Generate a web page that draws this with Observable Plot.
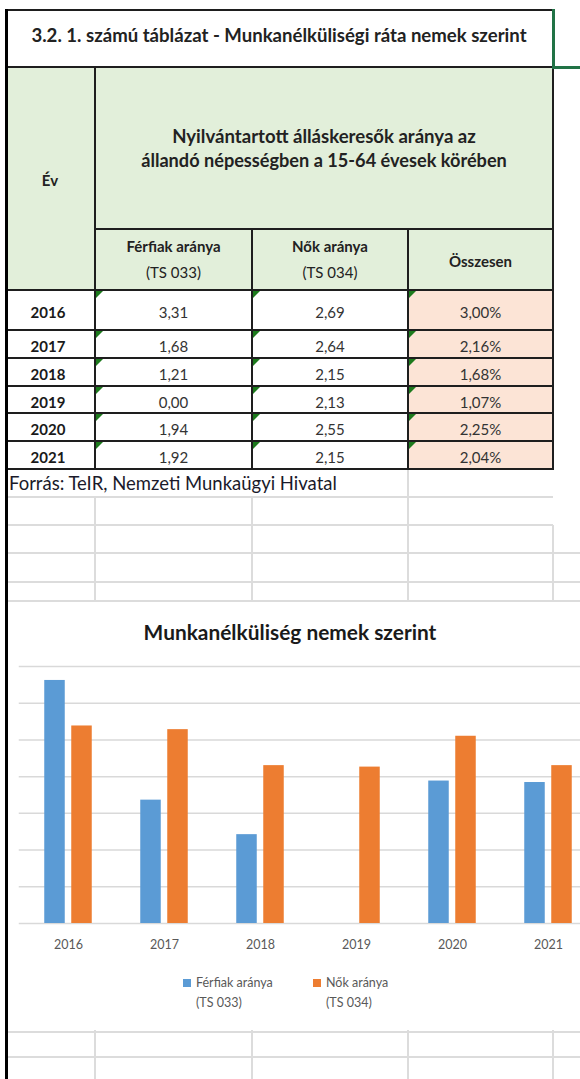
<!DOCTYPE html>
<html><head><meta charset="utf-8">
<script src="https://cdn.jsdelivr.net/npm/d3@7"></script>
<script src="https://cdn.jsdelivr.net/npm/@observablehq/plot@0.6"></script>
<style>
html,body{margin:0;padding:0;}
body{width:580px;height:1079px;overflow:hidden;background:#fff;position:relative;font-family:Lato,"Open Sans",sans-serif;}
.ln{position:absolute;}
.t{position:absolute;white-space:nowrap;line-height:1;}
.c{transform:translate(-50%,-50%);}
.l{transform:translate(0,-50%);}
.tri{position:absolute;width:0;height:0;border-top:7px solid #1d7a1d;border-right:7px solid transparent;}
#chart{position:absolute;left:0;top:602px;width:580px;height:428px;background:#fff;overflow:hidden;}
#chart svg{position:absolute;left:0;top:49px;overflow:visible;max-width:none !important;}
</style></head><body>
<div id="sheet"></div>
<div id="chart"></div>
<div id="front"></div>
<script>
// ---- data ----
const years = ["2016", "2017", "2018", "2019", "2020", "2021"];
const men = [3.31, 1.68, 1.21, 0.00, 1.94, 1.92];
const women = [2.69, 2.64, 2.15, 2.13, 2.55, 2.15];
const total = [3.00, 2.16, 1.68, 1.07, 2.25, 2.04];
const seriesNames = ["Férfiak aránya (TS 033)", "Nők aránya (TS 034)"];
const seriesColors = ["#5b9bd5", "#ed7d31"];
const yTicks = [0, 0.5, 1, 1.5, 2, 2.5, 3, 3.5];
const tableTitle = "3.2. 1. számú táblázat - Munkanélküliségi ráta nemek szerint";
const headerLines = ["Nyilvántartott álláskeresők aránya az", "állandó népességben a 15-64 évesek körében"];
const colHeads = [["Férfiak aránya", "(TS 033)"], ["Nők aránya", "(TS 034)"], ["Összesen"]];
const sourceText = "Forrás: TeIR, Nemzeti Munkaügyi Hivatal";
const chartTitle = "Munkanélküliség nemek szerint";

const fmt = v => v.toFixed(2).replace(".", ",");

// ---- sheet helpers ----
const sheet = document.getElementById("sheet");
const front = document.getElementById("front");
function box(parent, x, y, w, h, color) {
  const d = document.createElement("div");
  d.className = "ln";
  Object.assign(d.style, {left: x + "px", top: y + "px", width: w + "px", height: h + "px", background: color});
  parent.appendChild(d);
  return d;
}
function hline(p, x1, x2, y, c, w) { return box(p, x1, y - w / 2, x2 - x1, w, c); }
function vline(p, x, y1, y2, c, w) { return box(p, x - w / 2, y1, w, y2 - y1, c); }
function text(p, str, x, y, opts = {}) {
  const s = document.createElement("span");
  s.className = "t " + (opts.align === "left" ? "l" : "c");
  s.textContent = str;
  Object.assign(s.style, {left: x + "px", top: y + "px", fontSize: (opts.size || 16) + "px",
    fontWeight: opts.bold ? "700" : "400", color: opts.color || "#222"});
  p.appendChild(s);
  if (opts.width) {
    const w = s.getBoundingClientRect().width;
    s.style.fontSize = ((opts.size || 16) * opts.width / w) + "px";
  }
  return s;
}

const X = [7, 95, 252, 408, 553];
const RY = [290, 330, 358, 386, 413, 441, 469];
const GRID = "#dcdcdc", BLK = "#1e1e1e";

// fills
box(sheet, 7, 67, 546, 223, "#e2efda");
box(sheet, 408, 290, 145, 179, "#fce4d6");

// excel grid lines under/around table
hline(sheet, 7, 553, 497, GRID, 2);
hline(sheet, 7, 553, 525, GRID, 2);
[553, 582, 601, 1032, 1057].forEach(y => hline(sheet, 7, 580, y, GRID, 2));
vline(sheet, 408, 469, 497, GRID, 2);
[95, 252, 408].forEach(x => vline(sheet, x, 497, 602, GRID, 2));
vline(sheet, 553, 525, 602, GRID, 2);
[95, 252, 408, 553].forEach(x => vline(sheet, x, 1030, 1079, GRID, 2));

// table borders
hline(sheet, 7, 553, 10, BLK, 2);
hline(sheet, 7, 553, 67, BLK, 2);
vline(sheet, 95, 67, 469, BLK, 2);
vline(sheet, 553, 67, 469, BLK, 2);
hline(sheet, 95, 553, 229, BLK, 2);
vline(sheet, 252, 229, 469, BLK, 2);
vline(sheet, 408, 229, 469, BLK, 2);
RY.forEach(y => hline(sheet, 7, 554, y, BLK, 2));
// selected cell (green)
vline(sheet, 553, 9, 68, "#217346", 3);
hline(sheet, 552, 580, 67.5, "#217346", 3);

// green error triangles
for (let r = 0; r < years.length; r++) {
  for (let c = 1; c <= 3; c++) {
    const d = document.createElement("div");
    d.className = "tri";
    d.style.left = (X[c] + 1) + "px";
    d.style.top = (RY[r] + 1) + "px";
    sheet.appendChild(d);
  }
}

// table texts
const h1 = text(sheet, headerLines[0], 324, 136, {bold: true, size: 15, width: 304});
text(sheet, headerLines[1], 324, 160, {bold: true, size: 15, width: 366});
const headSize = parseFloat(h1.style.fontSize);
text(sheet, tableTitle, 279, 35, {bold: true, size: headSize});
text(sheet, "Év", 50, 180, {bold: true, size: 15});
const colCx = [173.5, 330, 480.5];
colHeads.forEach((lines, i) => {
  if (lines.length === 2) {
    text(sheet, lines[0], colCx[i], 246, {bold: true, size: 15});
    text(sheet, lines[1], colCx[i], 272, {size: 15});
  } else {
    text(sheet, lines[0], colCx[i], 261, {bold: true, size: 15});
  }
});
years.forEach((yr, r) => {
  const cy = (RY[r] + RY[r + 1]) / 2 + 2;
  text(sheet, yr, 48, cy, {bold: true, size: 15, color: "#1a1a1a"});
  text(sheet, fmt(men[r]), colCx[0], cy, {size: 15, color: "#333"});
  text(sheet, fmt(women[r]), colCx[1], cy, {size: 15, color: "#333"});
  text(sheet, fmt(total[r]) + "%", colCx[2], cy, {size: 15, color: "#333"});
});
text(sheet, sourceText, 9, 483, {align: "left", size: 15, width: 328, color: "#1a1a2a"});

// ---- chart ----
const chart = document.getElementById("chart");
text(chart, chartTitle, 290, 30, {bold: true, size: 17, width: 293, color: "#1a1a1a"});

const barsMen = years.map((yr, i) => ({year: yr, value: men[i]}));
const barsWomen = years.map((yr, i) => ({year: yr, value: women[i]}));

const svg = Plot.plot({
  width: 620,
  height: 308,
  marginLeft: 18.75,
  marginRight: 22.25,
  marginTop: 15,
  marginBottom: 36,
  style: {background: "transparent", fontFamily: "Lato, 'Open Sans', sans-serif", fontSize: "12.5px", color: "#595959", overflow: "visible", maxWidth: "none"},
  x: {domain: years, padding: 0, label: null, tickSize: 0, tickPadding: 17},
  y: {domain: [0, 3.5], axis: null},
  marks: [
    Plot.ruleY(yTicks, {stroke: "#d9d9d9", strokeWidth: 1.5}),
    Plot.barY(barsMen, {x: "year", y: "value", fill: seriesColors[0], insetLeft: 24.25, insetRight: 51.25}),
    Plot.barY(barsWomen, {x: "year", y: "value", fill: seriesColors[1], insetLeft: 51.25, insetRight: 24.25})
  ]
});
svg.style.maxWidth = "none";
svg.setAttribute("width", 620);
chart.appendChild(svg);

// legend
const legX = [183, 313];
seriesNames.forEach((name, i) => {
  const idx = name.indexOf(" (");
  box(chart, legX[i], 377, 8, 8, seriesColors[i]);
  text(chart, name.slice(0, idx), legX[i] + 13, 381, {align: "left", size: 12.5, color: "#595959"});
  text(chart, name.slice(idx + 1), legX[i] + 13, 401, {align: "left", size: 12.5, color: "#595959"});
});

// left thick border on top
box(front, 5, 9, 3, 1070, "#000");
</script>
</body></html>
